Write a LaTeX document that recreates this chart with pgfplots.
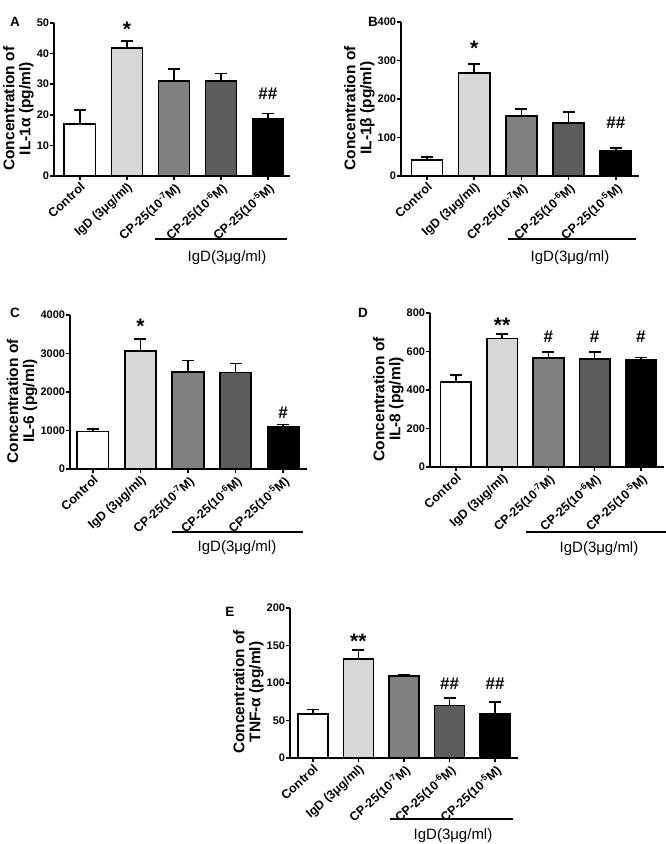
\documentclass[border=0pt]{standalone}
\usepackage{fontspec}
\setmainfont{Liberation Sans}
\usepackage{pgfplots}
\pgfplotsset{compat=1.18}
\definecolor{lg}{RGB}{215,215,215}
\definecolor{mg}{RGB}{128,128,128}
\definecolor{dg}{RGB}{92,92,92}
\pgfplotsset{
  panel/.style={
    scale only axis, ybar, anchor=south west,
    axis x line*=bottom, axis y line*=left,
    ymin=0, xtick={0,1,2,3,4},
    xticklabels={Control, IgD (3μg/ml), CP-25(10\textsuperscript{-7}M), CP-25(10\textsuperscript{-6}M), CP-25(10\textsuperscript{-5}M)},
    x tick label style={rotate=42, anchor=north east, font=\bfseries\fontsize{12.5}{13}\selectfont, inner sep=1pt},
    y tick label style={font=\bfseries\fontsize{11}{12}\selectfont, inner sep=0.8pt},
    /pgf/number format/assume math mode=true, /pgf/number format/1000 sep={},
    scaled y ticks=false,
    tick align=outside, major tick length=4pt, tick style={line width=1.5pt, black},
    axis line style={line width=1.8pt},
    clip=false,
    ylabel style={font=\bfseries\fontsize{15.5}{16}\selectfont, align=center, at={(ticklabel cs:0.44)}, inner sep=2pt},
  },
  cbar/.style={ybar, fill=#1, draw=black, line width=1.7pt, bar shift=0pt, bar width=0.66,
    error bars/.cd, y dir=plus, y explicit,
    error bar style={line width=1.7pt, black},
    error mark options={rotate=90, mark size=6pt, line width=1.7pt, black}},
}
\tikzset{
  sig/.style={font=\bfseries\fontsize{17}{17}\selectfont, inner sep=0pt},
  st/.style={font=\bfseries\fontsize{21}{21}\selectfont, inner sep=0pt},
  brk/.style={line width=1.6pt},
  brt/.style={font=\fontsize{15}{15}\selectfont, inner sep=0pt},
  plet/.style={font=\bfseries\fontsize{13.5}{14}\selectfont, inner sep=0pt},
}
\begin{document}
\begin{tikzpicture}
\useasboundingbox (0pt,0pt) rectangle (666pt,844pt);

% Panel A
\begin{axis}[panel, at={(54pt,668pt)}, width=236pt, height=153pt,
  xmin=-0.55, xmax=4.47, ymax=50, ytick={0,10,20,30,40,50},
  ylabel={Concentration of\\IL-1α (pg/ml)}]
\addplot[cbar=white] coordinates {(0,17.0) +- (0,4.5)};
\addplot[cbar=lg] coordinates {(1,41.9) +- (0,2.2)};
\addplot[cbar=mg] coordinates {(2,31.1) +- (0,3.8)};
\addplot[cbar=dg] coordinates {(3,31.1) +- (0,2.4)};
\addplot[cbar=black] coordinates {(4,18.8) +- (0,1.6)};
\node[st] at (axis cs:1,48) {*};
\node[sig] at (axis cs:4,26.8) {\#\#};
\end{axis}

% Panel B
\begin{axis}[panel, at={(401pt,668pt)}, width=238pt, height=154pt,
  xmin=-0.55, xmax=4.49, ymax=400, ytick={0,100,200,300,400},
  ylabel={Concentration of\\IL-1β (pg/ml)}]
\addplot[cbar=white] coordinates {(0,41) +- (0,8)};
\addplot[cbar=lg] coordinates {(1,267) +- (0,24)};
\addplot[cbar=mg] coordinates {(2,155) +- (0,19)};
\addplot[cbar=dg] coordinates {(3,138) +- (0,29)};
\addplot[cbar=black] coordinates {(4,66) +- (0,7)};
\node[st] at (axis cs:1,332) {*};
\node[sig] at (axis cs:4,138) {\#\#};
\end{axis}

% Panel C
\begin{axis}[panel, at={(70pt,375pt)}, width=237pt, height=154pt,
  xmin=-0.48, xmax=4.5, ymax=4000, ytick={0,1000,2000,3000,4000},
  ylabel={Concentration of\\IL-6 (pg/ml)}]
\addplot[cbar=white] coordinates {(0,975) +- (0,65)};
\addplot[cbar=lg] coordinates {(1,3060) +- (0,320)};
\addplot[cbar=mg] coordinates {(2,2520) +- (0,300)};
\addplot[cbar=dg] coordinates {(3,2505) +- (0,235)};
\addplot[cbar=black] coordinates {(4,1095) +- (0,60)};
\node[st] at (axis cs:1,3700) {*};
\node[sig] at (axis cs:4,1450) {\#};
\end{axis}

% Panel D
\begin{axis}[panel, at={(430pt,377pt)}, width=234pt, height=154pt,
  xmin=-0.56, xmax=4.5, ymax=800, ytick={0,200,400,600,800},
  ylabel={Concentration of\\IL-8 (pg/ml)}]
\addplot[cbar=white] coordinates {(0,443) +- (0,35)};
\addplot[cbar=lg] coordinates {(1,667) +- (0,24)};
\addplot[cbar=mg] coordinates {(2,565) +- (0,33)};
\addplot[cbar=dg] coordinates {(3,561) +- (0,37)};
\addplot[cbar=black] coordinates {(4,559) +- (0,10)};
\node[st] at (axis cs:1,735) {**};
\node[sig] at (axis cs:2,675) {\#};
\node[sig] at (axis cs:3,675) {\#};
\node[sig] at (axis cs:4,675) {\#};
\end{axis}

% Panel E
\begin{axis}[panel, at={(290pt,86pt)}, width=228pt, height=150pt,
  xmin=-0.5, xmax=4.5, ymax=200, ytick={0,50,100,150,200},
  ylabel={Concentration of\\TNF-α (pg/ml)}]
\addplot[cbar=white] coordinates {(0,58.8) +- (0,5.8)};
\addplot[cbar=lg] coordinates {(1,132) +- (0,12)};
\addplot[cbar=mg] coordinates {(2,109) +- (0,2.2)};
\addplot[cbar=dg] coordinates {(3,70) +- (0,10)};
\addplot[cbar=black] coordinates {(4,58.8) +- (0,15.5)};
\node[st] at (axis cs:1,155) {**};
\node[sig] at (axis cs:3,99) {\#\#};
\node[sig] at (axis cs:4,99) {\#\#};
\end{axis}

% Brackets and group labels
\draw[brk] (155pt,605pt) -- (287pt,605pt);
\node[brt] at (227pt,586pt) {IgD(3μg/ml)};
\draw[brk] (508pt,605pt) -- (636pt,605pt);
\node[brt] at (570pt,586pt) {IgD(3μg/ml)};
\draw[brk] (172pt,312pt) -- (303pt,312pt);
\node[brt] at (237pt,296pt) {IgD(3μg/ml)};
\draw[brk] (526pt,312pt) -- (666pt,312pt);
\node[brt] at (599pt,295pt) {IgD(3μg/ml)};
\draw[brk] (390pt,25pt) -- (513pt,25pt);
\node[brt] at (453pt,8.5pt) {IgD(3μg/ml)};

% Panel letters
\node[plet] at (15pt,822pt) {A};
\node[plet] at (373pt,822pt) {B};
\node[plet] at (15pt,531pt) {C};
\node[plet] at (363pt,531pt) {D};
\node[plet] at (230pt,232pt) {E};
\end{tikzpicture}
\end{document}
